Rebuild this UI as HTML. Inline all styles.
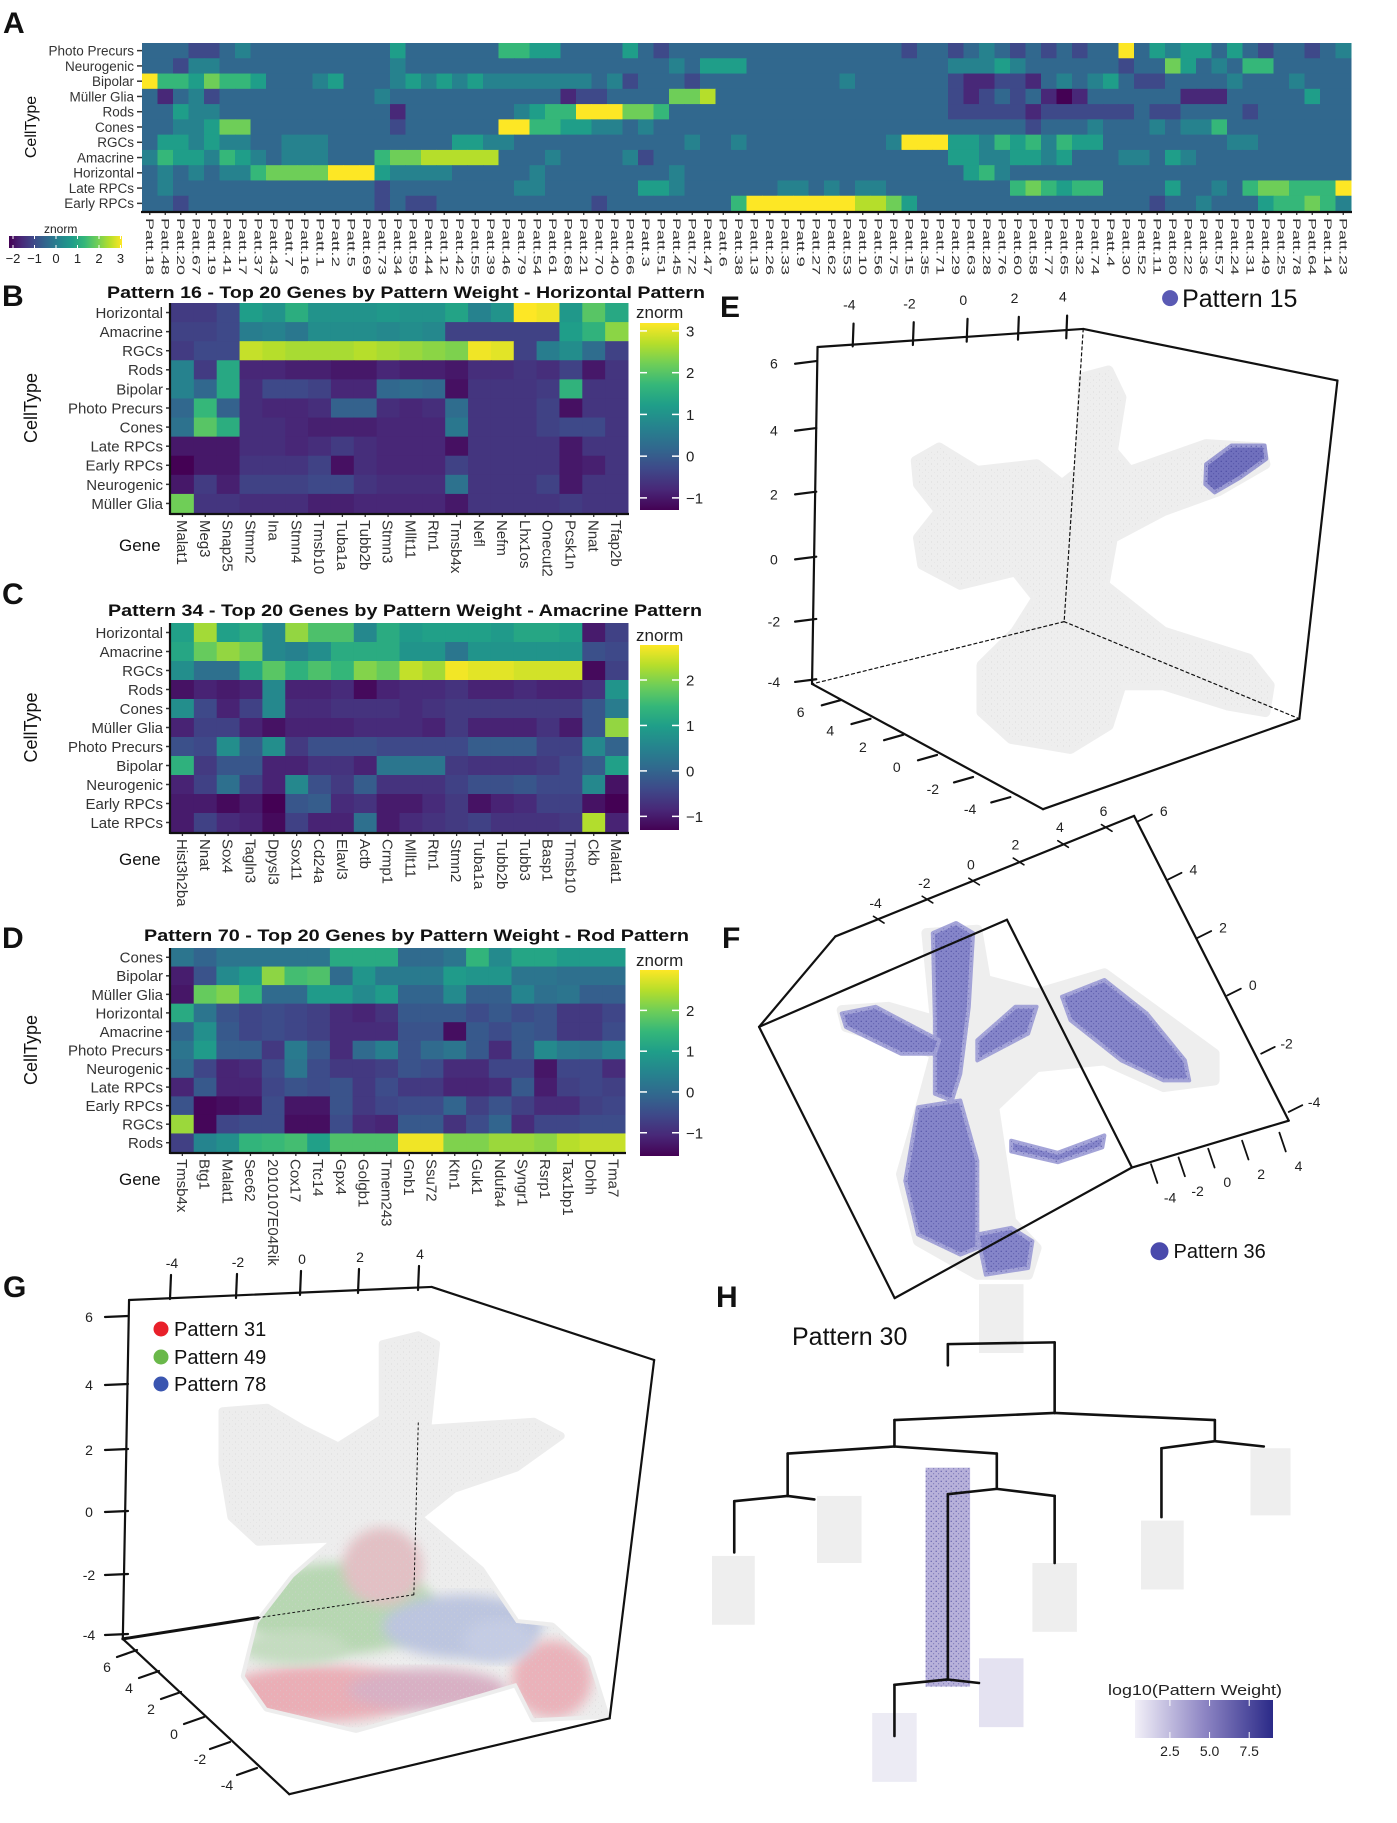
<!DOCTYPE html>
<html><head><meta charset="utf-8">
<style>
html,body{margin:0;padding:0;background:#fff;}
svg{display:block;font-family:"Liberation Sans",sans-serif;}
.nar{font-family:"Liberation Sans Narrow","Liberation Sans",sans-serif;}
</style></head>
<body>
<svg id="fig" width="1397" height="1823" viewBox="0 0 1397 1823" xmlns="http://www.w3.org/2000/svg">
<defs>
  <linearGradient id="virH" x1="0" x2="1" y1="0" y2="0">
    <stop offset="0" stop-color="#440154"/><stop offset="0.11" stop-color="#482878"/><stop offset="0.22" stop-color="#3e4989"/><stop offset="0.33" stop-color="#31688e"/><stop offset="0.44" stop-color="#26828e"/><stop offset="0.56" stop-color="#1f9e89"/><stop offset="0.67" stop-color="#35b779"/><stop offset="0.78" stop-color="#6ece58"/><stop offset="0.89" stop-color="#b5de2b"/><stop offset="1" stop-color="#fde725"/>
  </linearGradient>
  <linearGradient id="virV" x1="0" x2="0" y1="1" y2="0">
    <stop offset="0" stop-color="#440154"/><stop offset="0.11" stop-color="#482878"/><stop offset="0.22" stop-color="#3e4989"/><stop offset="0.33" stop-color="#31688e"/><stop offset="0.44" stop-color="#26828e"/><stop offset="0.56" stop-color="#1f9e89"/><stop offset="0.67" stop-color="#35b779"/><stop offset="0.78" stop-color="#6ece58"/><stop offset="0.89" stop-color="#b5de2b"/><stop offset="1" stop-color="#fde725"/>
  </linearGradient>
  <linearGradient id="purpH" x1="0" x2="1" y1="0" y2="0">
    <stop offset="0" stop-color="#f2f0f8"/><stop offset="0.5" stop-color="#8e86c4"/><stop offset="1" stop-color="#2b2a88"/>
  </linearGradient>
  <pattern id="speck" width="5" height="5" patternUnits="userSpaceOnUse">
    <circle cx="1.2" cy="1.3" r="0.7" fill="#3a3a96" opacity="0.7"/>
    <circle cx="3.6" cy="3.7" r="0.6" fill="#3a3a96" opacity="0.5"/>
  </pattern>
  <pattern id="speckG" width="6" height="6" patternUnits="userSpaceOnUse">
    <circle cx="1.5" cy="2" r="0.6" fill="#cfcfcf" opacity="0.6"/>
    <circle cx="4.5" cy="4.6" r="0.5" fill="#d6d6d6" opacity="0.5"/>
  </pattern>
  <filter id="blur6"><feGaussianBlur stdDeviation="6"/></filter>
  <filter id="blur3"><feGaussianBlur stdDeviation="2.5"/></filter>
</defs>
<g font-weight="bold" font-size="30" fill="#111">
  <text x="3" y="33">A</text>
  <text x="2" y="306">B</text>
  <text x="2" y="604">C</text>
  <text x="2" y="948">D</text>
  <text x="720" y="317">E</text>
  <text x="722" y="948">F</text>
  <text x="3" y="1297">G</text>
  <text x="716" y="1307">H</text>
</g>
<g font-weight="bold" font-size="16.5" fill="#111">
  <text x="107" y="298" textLength="598" lengthAdjust="spacingAndGlyphs">Pattern 16 - Top 20 Genes by Pattern Weight - Horizontal Pattern</text>
  <text x="108" y="616" textLength="594" lengthAdjust="spacingAndGlyphs">Pattern 34 - Top 20 Genes by Pattern Weight - Amacrine Pattern</text>
  <text x="144" y="941" textLength="545" lengthAdjust="spacingAndGlyphs">Pattern 70 - Top 20 Genes by Pattern Weight - Rod Pattern</text>
</g>
</svg>
<script>
// ---------------- DATA: Panel A ----------------
const aRows = ['Photo Precurs','Neurogenic','Bipolar','Müller Glia','Rods','Cones','RGCs','Amacrine','Horizontal','Late RPCs','Early RPCs'];
const aCols = ['Patt.18','Patt.48','Patt.20','Patt.67','Patt.19','Patt.41','Patt.17','Patt.37','Patt.43','Patt.7','Patt.16','Patt.1','Patt.2','Patt.5','Patt.69','Patt.73','Patt.34','Patt.59','Patt.44','Patt.12','Patt.42','Patt.55','Patt.39','Patt.46','Patt.79','Patt.54','Patt.61','Patt.68','Patt.21','Patt.70','Patt.40','Patt.66','Patt.3','Patt.51','Patt.45','Patt.72','Patt.47','Patt.6','Patt.38','Patt.13','Patt.26','Patt.33','Patt.9','Patt.27','Patt.62','Patt.53','Patt.10','Patt.56','Patt.75','Patt.15','Patt.35','Patt.71','Patt.29','Patt.63','Patt.28','Patt.76','Patt.60','Patt.58','Patt.77','Patt.65','Patt.32','Patt.74','Patt.4','Patt.30','Patt.52','Patt.11','Patt.80','Patt.22','Patt.36','Patt.57','Patt.24','Patt.31','Patt.49','Patt.25','Patt.78','Patt.64','Patt.14','Patt.23'];
// quantised z-levels 0..9 (0 = -2, 9 = 3)
const aLevels = [
 '3332234333'+'3333335333'+'3336655333'+'3532333333'+'3333333332'+'3323432323'+'2339354553'+'53233234',
 '3324433333'+'3333334333'+'3333333333'+'3333435553'+'3333333333'+'3344454333'+'3332337534'+'36633333',
 '9665766533'+'3453334545'+'4544444443'+'4233323333'+'3333343333'+'3321122134'+'3453223333'+'43334333',
 '3134233333'+'3333343333'+'3333333122'+'3333778333'+'3333333333'+'3321232310'+'1333333111'+'33333533',
 '3354433333'+'3333331333'+'3333456699'+'9776333333'+'3333333333'+'3322222122'+'2222322333'+'32333333',
 '3344577333'+'3333332333'+'3339966554'+'4343333333'+'3333333333'+'3333333233'+'3433343446'+'33333333',
 '3554544334'+'4433333333'+'5544333333'+'3333343343'+'3333333349'+'9955465646'+'5533333333'+'44333333',
 '4655465434'+'4433367788'+'8883334333'+'3423333333'+'3333333333'+'3355445545'+'3334435433'+'33333333',
 '3434344677'+'7799954444'+'3333343333'+'3333433333'+'3333333333'+'3335643333'+'3333333333'+'33333333',
 '3433333333'+'3333323333'+'3333443333'+'3355433333'+'3443434433'+'3333336765'+'6633335334'+'36776669',
 '3323333333'+'3333323223'+'3333333332'+'3333333369'+'9999998875'+'3333333333'+'3333323343'+'33566764'
];
const aTicks = ['-2','-1','0','1','2','3'];

// ---------------- DATA: Panel B ----------------
const bRows = ['Horizontal','Amacrine','RGCs','Rods','Bipolar','Photo Precurs','Cones','Late RPCs','Early RPCs','Neurogenic','Müller Glia'];
const bGenes = ['Malat1','Meg3','Snap25','Stmn2','Ina','Stmn4','Tmsb10','Tuba1a','Tubb2b','Stmn3','Mllt11','Rtn1','Tmsb4x','Nefl','Nefm','Lhx1os','Onecut2','Pcsk1n','Nnat','Tfap2b'];
const bValues = [
 [-0.5,-0.5,-0.3,1.2,1.0,1.5,1.0,1.0,1.0,1.1,1.0,1.0,1.3,0.7,1.0,3.2,3.1,1.1,2.0,1.4],
 [-0.4,-0.4,-0.3,0.6,0.7,0.5,0.9,0.9,0.9,0.8,0.9,0.8,-0.4,-0.4,-0.4,-0.4,-0.4,1.2,1.6,2.4],
 [-0.5,-0.3,-0.3,2.8,2.7,2.6,2.6,2.6,2.7,2.6,2.5,2.4,2.3,3.1,3.0,-0.4,0.6,0.9,0.3,-0.4],
 [0.7,-0.5,1.4,-0.8,-0.8,-0.9,-0.9,-1.0,-1.0,-0.8,-0.9,-0.9,-1.0,-0.7,-0.7,-0.6,-0.7,-0.4,-1.0,-0.6],
 [0.7,0.2,1.4,-0.7,-0.3,-0.3,-0.4,-0.8,-0.8,0.2,0.3,0.2,-1.1,-0.6,-0.6,-0.6,-0.5,1.6,-0.6,-0.6],
 [0.2,1.7,0.1,-0.7,-0.8,-0.8,-0.7,0.1,0.1,-0.7,-0.8,-0.7,0.3,-0.6,-0.6,-0.6,-0.4,-1.1,-0.6,-0.6],
 [0.4,2.0,1.5,-0.7,-0.7,-0.8,-0.9,-0.9,-0.9,-0.8,-0.8,-0.8,0.5,-0.6,-0.6,-0.6,-0.4,-0.3,-0.3,-0.6],
 [-1.0,-1.0,-1.0,-0.7,-0.7,-0.8,-0.7,-0.5,-0.7,-0.8,-0.8,-0.8,-1.1,-0.6,-0.6,-0.6,-0.6,-1.0,-0.6,-0.6],
 [-1.3,-1.0,-1.0,-0.6,-0.6,-0.6,-0.4,-1.1,-0.7,-0.8,-0.8,-0.8,-0.4,-0.6,-0.6,-0.6,-0.6,-1.0,-0.9,-0.6],
 [-1.0,-0.5,-0.9,-0.4,-0.4,-0.4,-0.3,-0.3,-0.6,-0.7,-0.7,-0.7,0.4,-0.6,-0.6,-0.6,-0.4,-1.0,-0.6,-0.6],
 [2.2,-0.6,-0.6,-0.7,-0.7,-0.7,-0.9,-0.9,-0.8,-0.8,-0.8,-0.8,-1.0,-0.6,-0.6,-0.6,-0.6,-0.5,-0.6,-0.6]
];
const bTicks = [3,2,1,0,-1];

// ---------------- DATA: Panel C ----------------
const cRows = ['Horizontal','Amacrine','RGCs','Rods','Cones','Müller Glia','Photo Precurs','Bipolar','Neurogenic','Early RPCs','Late RPCs'];
const cGenes = ['Hist3h2ba','Nnat','Sox4','Tagln3','Dpysl3','Sox11','Cd24a','Elavl3','Actb','Crmp1','Mllt11','Rtn1','Stmn2','Tuba1a','Tubb2b','Tubb3','Basp1','Tmsb10','Ckb','Malat1'];
const cValues = [
 [1.0,2.2,1.0,1.2,0.6,2.1,1.6,1.6,0.6,1.2,0.9,1.0,1.0,1.0,0.9,1.1,1.1,1.0,-1.0,-0.5],
 [1.1,1.8,2.1,1.9,0.6,0.5,0.7,1.2,1.2,1.2,0.8,0.8,0.3,0.8,0.8,0.8,0.8,0.8,-0.3,-0.4],
 [0.7,0.2,0.2,1.1,1.7,1.3,1.6,1.4,2.0,1.8,2.4,2.2,2.7,2.6,2.6,2.5,2.5,2.5,-1.2,-0.5],
 [-1.1,-0.9,-1.0,-0.9,0.6,-0.9,-0.9,-0.8,-1.2,-0.9,-0.8,-0.8,-0.7,-0.9,-0.9,-0.8,-0.9,-0.9,-0.7,0.8],
 [0.7,-0.4,-0.9,-0.5,0.6,-0.8,-0.8,-0.7,-0.7,-0.7,-0.8,-0.7,-0.6,-0.6,-0.6,-0.6,-0.6,-0.6,-0.2,0.4],
 [-0.9,-0.5,-0.5,-0.9,-1.1,-0.9,-0.9,-0.9,-0.8,-0.8,-0.8,-0.9,-0.6,-0.9,-0.9,-0.9,-0.7,-1.0,-0.2,2.1],
 [-0.3,-0.4,0.7,-0.1,0.7,-0.6,-0.3,-0.3,-0.3,-0.4,-0.4,-0.4,-0.4,-0.1,-0.1,-0.1,-0.5,-0.5,0.6,0.0],
 [1.3,-0.6,-0.2,-0.2,-0.9,-0.9,-0.7,-0.7,-0.9,0.3,0.3,0.3,-0.6,-0.7,-0.7,-0.7,-0.6,-0.4,-0.1,1.0],
 [-0.9,-0.5,0.2,-0.5,-0.9,0.6,-0.3,-0.6,-0.1,-0.7,-0.7,-0.7,-0.5,-0.3,-0.3,-0.2,-0.4,-0.4,0.6,-1.1],
 [-1.0,-1.0,-1.2,-1.0,-1.3,-0.2,-0.1,-0.8,-0.7,-1.0,-1.0,-0.8,-0.6,-1.1,-0.9,-0.8,-0.5,-0.5,-1.1,-1.3],
 [-1.0,-0.5,-0.8,-0.9,-1.2,-0.5,-0.9,-0.9,0.2,-1.0,-0.8,-0.7,-0.6,-0.5,-0.7,-0.7,-0.7,-0.6,2.3,-0.9]
];
const cTicks = [2,1,0,-1];

// ---------------- DATA: Panel D ----------------
const dRows = ['Cones','Bipolar','Müller Glia','Horizontal','Amacrine','Photo  Precurs','Neurogenic','Late RPCs','Early RPCs','RGCs','Rods'];
const dGenes = ['Tmsb4x','Btg1','Malat1','Sec62','2010107E04Rik','Cox17','Ttc14','Gpx4','Golgb1','Tmem243','Gnb1','Ssu72','Ktn1','Guk1','Ndufa4','Syngr1','Rsrp1','Tax1bp1','Dohh','Tma7'];
const dValues = [
 [0.2,-0.1,0.2,0.2,0.2,0.2,0.2,1.2,1.2,1.2,0.0,0.0,0.2,1.4,0.6,1.1,1.1,0.9,0.9,0.9],
 [-1.2,-0.4,0.6,0.9,2.2,1.6,1.7,0.0,0.8,0.3,0.3,0.3,0.9,0.8,0.8,0.2,0.2,0.1,0.1,0.1],
 [-1.3,1.9,2.1,1.4,0.0,0.0,0.9,0.9,0.6,0.9,-0.1,-0.1,0.6,-0.2,-0.2,0.5,0.1,0.2,-0.2,-0.2],
 [1.2,0.2,-0.4,-0.6,-0.5,-0.6,-0.7,-1.0,-1.1,-0.9,-0.3,-0.3,-0.3,-0.5,-0.3,-0.5,-0.4,-0.8,-0.8,-0.6],
 [-0.1,0.7,-0.3,-0.6,-0.5,-0.6,-0.7,-1.0,-1.0,-1.0,-0.4,-0.4,-1.4,-0.3,-0.5,-0.3,-0.4,-0.8,-0.8,-0.5],
 [0.2,0.9,-0.2,-0.2,-0.8,0.3,-0.3,-1.0,0.0,0.4,-0.4,0.0,0.2,-0.3,-1.0,-0.3,0.6,0.3,0.2,0.5],
 [0.0,-0.6,-1.1,-1.0,-0.5,0.2,-0.5,-0.8,-0.8,-0.7,-0.4,-0.5,-1.0,-1.0,-0.6,-0.6,-1.3,-0.6,-0.6,-1.0],
 [-1.1,-0.3,-1.1,-1.1,-0.6,-0.4,-0.5,-0.4,-0.8,-0.5,-0.8,-0.8,-1.1,-1.1,-1.0,-0.3,-1.2,-0.7,-0.6,-0.7],
 [-0.4,-1.5,-1.4,-1.3,-0.5,-1.3,-1.3,-0.4,-0.8,-0.6,-0.5,-0.5,-0.1,-0.7,-0.4,-0.7,-1.0,-1.0,-0.7,-0.6],
 [2.3,-1.5,-0.6,-0.5,-0.5,-1.4,-1.4,-0.5,-1.0,-1.1,-0.3,-0.3,-0.9,-0.5,-0.1,-1.0,-0.6,-0.6,-0.5,-0.5],
 [-0.7,0.5,0.7,1.4,1.5,1.6,1.0,1.7,1.7,1.7,2.9,2.9,2.1,2.1,2.3,2.3,2.2,2.5,2.6,2.6]
];
const dTicks = [2,1,0,-1];

// ---------------- DATA: Panel H legend ----------------
const hTicks = ['2.5','5.0','7.5'];

const NS = 'http://www.w3.org/2000/svg';
const svg = document.getElementById('fig');
function mk(tag, attrs, parent){
  const e = document.createElementNS(NS, tag);
  for (const k in attrs) e.setAttribute(k, attrs[k]);
  (parent || svg).appendChild(e);
  return e;
}
const VIR = [[68,1,84],[72,40,120],[62,73,137],[49,104,142],[38,130,142],[31,158,137],[53,183,121],[110,206,88],[181,222,43],[253,231,37]];
function vir(t){
  t = Math.max(0, Math.min(1, t));
  const p = t*9, i = Math.min(8, Math.floor(p)), f = p - i;
  const a = VIR[i], b = VIR[i+1];
  return 'rgb(' + a.map((v,k)=>Math.round(v+(b[k]-v)*f)).join(',') + ')';
}

function heatmap(name, vals, rows, cols, box, vmin, vmax, st){
  const g = mk('g', {});
  
  
  const cw = (box.x1-box.x0)/cols.length, rh = (box.y1-box.y0)/rows.length;
  const xs = i => box.x0 + i*cw;
  const ys = j => box.y0 + j*rh;
  vals.forEach((row, j) => row.forEach((v, i) => {
    const r = mk('rect', {x: xs(i), y: ys(j), width: cw+0.5, height: rh+0.5, fill: vir((v-vmin)/(vmax-vmin))}, g);
    
    
  }));
  rows.forEach((lab, j) => {
    const t = mk('text', {x: box.x0-8, y: ys(j)+rh/2+st.rfs*0.36, 'text-anchor': 'end', 'font-size': st.rfs, fill: '#333', class: 'nar'}, g);
    t.textContent = lab;
    
    
    mk('line', {x1: box.x0-5, x2: box.x0, y1: ys(j)+rh/2, y2: ys(j)+rh/2, stroke: '#333', 'stroke-width': 1.5}, g);
  });
  cols.forEach((lab, i) => {
    const cx = xs(i)+cw/2;
    mk('line', {x1: cx, x2: cx, y1: box.y1, y2: box.y1+4, stroke: '#333', 'stroke-width': 1.3}, g);
    const attrs = {transform: 'translate(' + (cx - st.cfs*0.36) + ',' + (box.y1+7) + ') rotate(90)', 'font-size': st.cfs, fill: '#333'};
    if (st.tl) { attrs.textLength = st.tl*lab.length/7; attrs.lengthAdjust = 'spacingAndGlyphs'; }
    const t = mk('text', attrs, g);
    t.textContent = lab;
    
    
  });
  mk('line', {x1: box.x0-1, x2: box.x1+1, y1: box.y1+1, y2: box.y1+1, stroke: '#111', 'stroke-width': 2.2}, g);
  if (st.leftAxis) mk('line', {x1: box.x0-1, x2: box.x0-1, y1: box.y0, y2: box.y1+2, stroke: '#111', 'stroke-width': 2.2}, g);
  const yl = mk('text', {transform: 'translate(' + st.ylx + ',' + ((box.y0+box.y1)/2) + ') rotate(-90)', 'text-anchor': 'middle', 'font-size': st.yfs, fill: '#111'}, g);
  yl.textContent = 'CellType';
  
  
  return g;
}

function colorbar(name, bx, by0, by1, vmin, vmax, ticks, ztop){
  const g = mk('g', {});
  
  
  mk('rect', {x: bx, y: by0, width: 39, height: by1-by0, fill: 'url(#virV)'}, g);
  const sy = v => by1 - (v-vmin)/(vmax-vmin)*(by1-by0);
  ticks.forEach(v => {
    mk('line', {x1: bx, x2: bx+7, y1: sy(v), y2: sy(v), stroke: '#fff', 'stroke-width': 1.5}, g);
    mk('line', {x1: bx+32, x2: bx+39, y1: sy(v), y2: sy(v), stroke: '#fff', 'stroke-width': 1.5}, g);
    const t = mk('text', {x: bx+46, y: sy(v)+5.5, 'font-size': 15, fill: '#222'}, g);
    t.textContent = v < 0 ? '\u2212' + Math.abs(v) : String(v);
    
    
  });
  const z = mk('text', {x: bx-4, y: ztop, 'font-size': 17, fill: '#222'}, g);
  z.textContent = 'znorm';
  
  
}

function geneTitle(y){
  const t = mk('text', {x: 119, y: y, 'font-size': 17, fill: '#111'});
  t.textContent = 'Gene';
  
  
}

// ---------- Panel A ----------
const aValues = aLevels.map(s => s.split('').map(d => -2 + Number(d)*5/9));
heatmap('heatmap-a', aValues, aRows, aCols, {x0: 142, x1: 1351, y0: 43, y1: 211}, -2, 3, {rfs: 13.5, cfs: 11, tl: 57, ylx: 36, yfs: 16});
(function(){
  const g = mk('g', {});
  
  
  mk('rect', {x: 9, y: 236, width: 113, height: 12, fill: 'url(#virH)'}, g);
  const z = mk('text', {x: 44, y: 233, 'font-size': 12, fill: '#222'}, g);
  z.textContent = 'znorm';
  
  
  const sx = v => 13 + (v+2)*21.5;
  aTicks.forEach(v => {
    const x = sx(Number(v));
    mk('line', {x1: x, x2: x, y1: 236, y2: 239, stroke: '#fff', 'stroke-width': 1}, g);
    mk('line', {x1: x, x2: x, y1: 245, y2: 248, stroke: '#fff', 'stroke-width': 1}, g);
    const t = mk('text', {x: x, y: 263, 'font-size': 13, 'text-anchor': 'middle', fill: '#222'}, g);
    t.textContent = v.replace('-', '\u2212');
    
    
  });
})();

// ---------- Panel B ----------
heatmap('heatmap-b', bValues, bRows, bGenes, {x0: 171, x1: 628, y0: 303, y1: 513}, -1.29, 3.19, {rfs: 15, cfs: 15, ylx: 37, yfs: 18, leftAxis: true});
colorbar('colorbar-b', 640, 323, 510, -1.29, 3.19, bTicks, 318);
geneTitle(551);
// ---------- Panel C ----------
heatmap('heatmap-c', cValues, cRows, cGenes, {x0: 171, x1: 628, y0: 623, y1: 832}, -1.30, 2.77, {rfs: 15, cfs: 15, ylx: 37, yfs: 18, leftAxis: true});
colorbar('colorbar-c', 640, 645, 830, -1.30, 2.77, cTicks, 641);
geneTitle(865);
// ---------- Panel D ----------
heatmap('heatmap-d', dValues, dRows, dGenes, {x0: 171, x1: 625, y0: 948, y1: 1152}, -1.57, 2.99, {rfs: 15, cfs: 15, ylx: 37, yfs: 18, leftAxis: true});
colorbar('colorbar-d', 640, 970, 1156, -1.57, 2.99, dTicks, 966);
geneTitle(1185);

// ---------- 3D panels helpers ----------
const z5 = (x, y) => [740 + x/2.36, 270 + y/1.493];
const z6 = (x, y) => [x*0.89, 1270 + y*0.353];
function poly(pts, tf, attrs, name, parent){
  const d = pts.map(p => tf(p[0], p[1]).map(v => v.toFixed(1)).join(',')).join(' ');
  const e = mk('polygon', Object.assign({points: d, 'stroke-linejoin': 'round'}, attrs), parent);
  
  
  return e;
}
function seg(a, b, tf, attrs, parent){
  const p = tf(a[0], a[1]), q = tf(b[0], b[1]);
  return mk('line', Object.assign({x1: p[0], y1: p[1], x2: q[0], y2: q[1], stroke: '#111', 'stroke-width': 2.2, 'stroke-linecap': 'round'}, attrs), parent);
}
function label(txt, x, y, tf, fs, parent, name){
  const p = tf(x, y);
  const t = mk('text', {x: p[0], y: p[1] + fs*0.35, 'font-size': fs, 'text-anchor': 'middle', fill: '#222'}, parent);
  t.textContent = txt;
  
  
  return t;
}

// ---------- Panel E ----------
(function(){
  const g = mk('g', {});
  
  
  const grey = [[415,285],[470,265],[560,300],[700,290],[760,320],[800,300],[810,160],[870,150],[900,190],[880,270],[920,300],[1100,260],[1230,265],[1240,290],[1130,330],[1000,360],[880,400],[860,470],[1000,540],[1200,580],[1250,620],[1240,660],[1150,650],[1000,620],[900,620],[870,680],[780,715],[640,700],[570,660],[570,590],[650,540],[700,490],[650,450],[520,470],[430,440],[420,400],[470,360],[420,320]];
  poly(grey, z5, {fill: '#eeeeee', stroke: '#eeeeee', 'stroke-width': 10}, 'cell-cloud', g);
  poly(grey, z5, {fill: 'url(#speckG)'}, 'cell-cloud-texture', g);
  const tip = [[1100,290],[1160,262],[1238,262],[1242,282],[1180,310],[1120,332],[1098,320]];
  poly(tip, z5, {fill: '#7070bd', stroke: '#9a9ad2', 'stroke-width': 4}, 'pattern-15-cells', g);
  poly(tip, z5, {fill: 'url(#speck)'}, 'pattern-15-texture', g);
  // box
  const A1=[183,115],A2=[170,618],A3=[810,88],A4=[1410,165],A5=[1320,670],A6=[715,805],IN=[765,525];
  [[A1,A3],[A3,A4],[A4,A5],[A5,A6],[A6,A2],[A2,A1]].forEach(e => seg(e[0], e[1], z5, {}, g));
  [[A3,IN],[IN,A2],[IN,A5]].forEach(e => seg(e[0], e[1], z5, {'stroke-width': 1.2, 'stroke-dasharray': '3,3'}, g));
  const topT = [['-4',258,52],['-2',400,50],['0',527,45],['2',648,42],['4',762,40]];
  topT.forEach(t => { label(t[0], t[1], t[2], z5, 14, g); seg([t[1]+10, t[2]+28], [t[1]+8, t[2]+62], z5, {}, g); });
  const leftT = [['6',80,140],['4',80,240],['2',80,335],['0',80,432],['-2',80,525],['-4',80,615]];
  leftT.forEach(t => { label(t[0], t[1], t[2], z5, 14, g); seg([t[1]+50, t[2]], [t[1]+100, t[2]-4], z5, {}, g); });
  const depT = [['6',143,660],['4',213,688],['2',290,712],['0',370,742],['-2',455,775],['-4',543,805]];
  depT.forEach(t => { label(t[0], t[1], t[2], z5, 14, g); seg([t[1]+50, t[2]-10], [t[1]+95, t[2]-18], z5, {}, g); });
  const d = z5(1015, 42);
  mk('circle', {cx: d[0], cy: d[1], r: 8, fill: '#5a5ab4'}, g);
  const lt = mk('text', {x: d[0]+12, y: d[1]+9, 'font-size': 25, fill: '#111'}, g);
  lt.textContent = 'Pattern 15';
  
  
})();

// ---------- Panel F ----------
(function(){
  const g = mk('g', {});
  
  
  const grey = [[440,990],[560,985],[580,1060],[700,1080],[860,1050],[1120,1170],[1120,1210],[1000,1220],[860,1180],[700,1190],[600,1250],[640,1420],[700,1460],[680,1500],[560,1500],[420,1450],[380,1350],[430,1240],[460,1170],[250,1130],[240,1105],[350,1100],[460,1120]];
  poly(grey, z5, {fill: '#eeeeee', stroke: '#eeeeee', 'stroke-width': 10}, 'cell-cloud', g);
  const purp = [
    [[455,990],[510,975],[550,990],[540,1100],[520,1200],[500,1240],[460,1230],[460,1120]],
    [[420,1250],[520,1240],[560,1330],[560,1460],[520,1470],[420,1440],[390,1360]],
    [[560,1440],[640,1430],[690,1450],[680,1490],[580,1500]],
    [[240,1110],[320,1100],[470,1150],[460,1170],[380,1170],[250,1130]],
    [[760,1085],[860,1060],[960,1110],[1050,1180],[1060,1210],[1000,1210],[900,1180],[780,1120]],
    [[560,1150],[650,1100],[700,1100],[680,1140],[560,1180]],
    [[640,1300],[750,1318],[860,1292],[855,1310],[750,1332],[640,1316]]
  ];
  purp.forEach(p => {
    poly(p, z5, {fill: '#8080c8', stroke: '#a0a0d6', 'stroke-width': 4, opacity: 0.95}, 'pattern-36-cells', g);
    poly(p, z5, {fill: 'url(#speck)'}, 'pattern-36-texture', g);
  });
  const B1=[45,1130],B2=[225,995],B3=[930,815],B4=[630,970],B5=[365,1535],B6=[925,1340],B7=[1295,1270];
  [[B1,B2],[B2,B3],[B1,B4],[B4,B6],[B3,B7],[B5,B6],[B6,B7],[B1,B5]].forEach(e => seg(e[0], e[1], z5, {}, g));
  const topT = [['-4',320,945],['-2',435,915],['0',545,888],['2',650,858],['4',755,832],['6',858,808]];
  topT.forEach(t => { label(t[0], t[1], t[2], z5, 14, g); seg([t[1]-5, t[2]+20], [t[1]+20, t[2]+30], z5, {'stroke-width': 1.6}, g); });
  const rT = [['6',1000,808],['4',1070,895],['2',1140,982],['0',1210,1068],['-2',1290,1155],['-4',1355,1242]];
  rT.forEach(t => { label(t[0], t[1], t[2], z5, 14, g); seg([t[1]-60, t[2]+15], [t[1]-28, t[2]+5], z5, {'stroke-width': 1.8}, g); });
  const bT = [['-4',1015,1385],['-2',1080,1375],['0',1150,1362],['2',1230,1350],['4',1318,1338]];
  bT.forEach(t => { label(t[0], t[1], t[2], z5, 14, g); seg([t[1]-45, t[2]-50], [t[1]-30, t[2]-22], z5, {'stroke-width': 1.8}, g); });
  const d = z5(990, 1465);
  mk('circle', {cx: d[0], cy: d[1], r: 9, fill: '#4a4aac'}, g);
  const lt = mk('text', {x: d[0]+14, y: d[1]+7, 'font-size': 20, fill: '#111'}, g);
  lt.textContent = 'Pattern 36';
  
  
})();

// ---------- Panel G ----------
(function(){
  const g = mk('g', {});
  
  
  const sil = [[250,400],[300,390],[340,450],[380,500],[430,420],[430,210],[470,185],[490,210],[480,450],[540,440],[600,430],[630,470],[580,560],[510,620],[470,700],[540,850],[580,1000],[620,1010],[660,1100],[680,1260],[600,1270],[580,1170],[540,1200],[400,1300],[300,1240],[275,1150],[290,1000],[330,870],[380,760],[290,770],[260,700],[250,550]];
  const cp = mk('clipPath', {id: 'gclip'});
  poly(sil, z6, {}, 'clip-shape', cp);
  poly(sil, z6, {fill: '#ededed', stroke: '#ededed', 'stroke-width': 8}, 'cell-cloud', g);
  const cg = mk('g', {'clip-path': 'url(#gclip)'}, g);
  const blobs = [
    [380,960,110,130,'#b7d7b2'],[520,1010,90,90,'#bcc5df'],[430,840,45,110,'#e2c0c4'],
    [360,1200,110,80,'#eaaeb6'],[480,1190,90,60,'#d8b0c4'],[620,1160,45,110,'#eab2ba'],[560,1050,40,60,'#c4cce4'],[330,1070,60,50,'#c4dcc0']
  ];
  blobs.forEach(b => {
    const c = z6(b[0], b[1]);
    const e = mk('ellipse', {cx: c[0], cy: c[1], rx: b[2]*0.89, ry: b[3]*0.353, fill: b[4], filter: 'url(#blur6)'}, cg);
    
    
  });
  poly(sil, z6, {fill: 'url(#speckG)'}, 'cell-cloud-texture', g);
  const TL=[145,85],TR=[485,48],RT=[735,255],RB=[685,1270],BF=[325,1485],LB=[138,1045];
  [[TL,TR],[TR,RT],[RT,RB],[RB,BF],[BF,LB],[LB,TL]].forEach(e => seg(e[0], e[1], z6, {}, g));
  seg(LB, [290,985], z6, {'stroke-width': 3}, g);
  seg([290,985], [465,920], z6, {'stroke-width': 1, 'stroke-dasharray': '2,3'}, g);
  seg([465,920], [470,430], z6, {'stroke-width': 1, 'stroke-dasharray': '2,3'}, g);
  const topT = [['-4',172,1263],['-2',238,1262],['0',302,1259],['2',360,1257],['4',420,1254]];
  const ident = (x, y) => [x, y];
  topT.forEach(t => { label(t[0], t[1], t[2], ident, 14, g); seg([t[1]-1, t[2]+12], [t[1]-2, t[2]+36], ident, {}, g); });
  const leftT = [['6',89,1317],['4',89,1385],['2',89,1450],['0',89,1512],['-2',89,1575],['-4',89,1635]];
  leftT.forEach(t => { label(t[0], t[1], t[2], ident, 14, g); seg([t[1]+16, t[2]], [t[1]+39, t[2]-1], ident, {}, g); });
  const depT = [['6',107,1667],['4',129,1688],['2',151,1709],['0',174,1734],['-2',200,1759],['-4',227,1785]];
  depT.forEach(t => { label(t[0], t[1], t[2], ident, 14, g); seg([t[1]+10, t[2]-10], [t[1]+30, t[2]-17], ident, {}, g); });
  const leg = [['Pattern 31','#e8202a',1329],['Pattern 49','#6ab84a',1357],['Pattern 78','#3a55b0',1384]];
  leg.forEach(l => {
    mk('circle', {cx: 161, cy: l[2], r: 7.5, fill: l[1]}, g);
    const t = mk('text', {x: 174, y: l[2]+7, 'font-size': 20, fill: '#111'}, g);
    t.textContent = l[0];
    
    
  });
})();

// ---------- Panel H ----------
(function(){
  const g = mk('g', {});
  
  
  const boxes = [
    [1100,40,1150,235,'#eeeeee'],[800,810,848,1005,'#eeeeee'],[918,640,968,830,'#eeeeee'],
    [1160,830,1210,1025,'#eeeeee'],[1282,710,1330,905,'#eeeeee'],[1405,505,1450,695,'#eeeeee'],
    [1100,1100,1150,1295,'#e4e2f1'],[980,1255,1030,1450,'#ecebf4'],[1040,560,1090,1180,'#b7b1da']
  ];
  boxes.forEach(b => {
    const p = z6(b[0], b[1]), q = z6(b[2], b[3]);
    const r = mk('rect', {x: p[0], y: p[1], width: q[0]-p[0], height: q[1]-p[1], fill: b[4]}, g);
    
    
    if (b[4] === '#b7b1da') mk('rect', {x: p[0], y: p[1], width: q[0]-p[0], height: q[1]-p[1], fill: 'url(#speck)'}, g);
  });
  const lines = [
    [[1065,210],[1185,205]],[[1065,210],[1065,270]],[[1185,205],[1185,405]],
    [[1005,425],[1185,405]],[[1185,405],[1365,425]],[[1005,425],[1005,500]],[[1365,425],[1365,485]],
    [[885,520],[1005,500]],[[1005,500],[1120,520]],[[885,520],[885,640]],
    [[825,655],[885,640]],[[885,640],[915,650]],[[825,655],[825,800]],
    [[1120,520],[1120,615]],[[1065,635],[1120,620]],[[1120,620],[1185,640]],[[1065,635],[1065,1160]],[[1185,640],[1185,830]],
    [[1305,505],[1365,485]],[[1365,485],[1420,500]],[[1305,505],[1305,700]],
    [[1005,1175],[1065,1160]],[[1065,1160],[1100,1170]],[[1005,1175],[1005,1320]]
  ];
  lines.forEach(l => {
    const e = seg(l[0], l[1], z6, {'stroke-width': 2.6}, g);
    
    
  });
  const pt = mk('text', {x: 792, y: 1345, 'font-size': 25, fill: '#111'}, g);
  pt.textContent = 'Pattern 30';
  
  
  const lt = mk('text', {x: 1108, y: 1695, 'font-size': 15, fill: '#222', textLength: 174, lengthAdjust: 'spacingAndGlyphs'}, g);
  lt.textContent = 'log10(Pattern Weight)';
  
  
  const lb = mk('rect', {x: 1135, y: 1700, width: 138, height: 38, fill: 'url(#purpH)'}, g);
  
  
  const sx = v => 1135 + (Number(v) - 0.3)/(9.0 - 0.3)*138;
  hTicks.forEach(v => {
    mk('line', {x1: sx(v), x2: sx(v), y1: 1700, y2: 1706, stroke: '#fff', 'stroke-width': 1}, g);
    mk('line', {x1: sx(v), x2: sx(v), y1: 1732, y2: 1738, stroke: '#fff', 'stroke-width': 1}, g);
    const t = mk('text', {x: sx(v), y: 1756, 'font-size': 14, 'text-anchor': 'middle', fill: '#222'}, g);
    t.textContent = v;
    
    
  });
})();
</script>
</body></html>
